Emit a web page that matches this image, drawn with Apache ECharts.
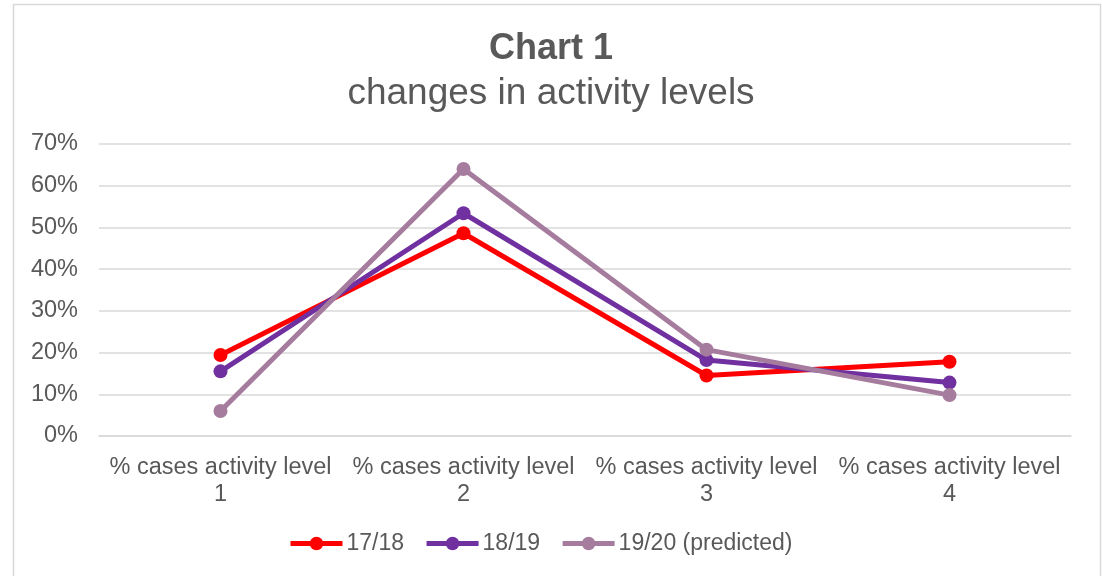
<!DOCTYPE html>
<html><head><meta charset="utf-8">
<script src="https://cdn.jsdelivr.net/npm/echarts@6/dist/echarts.min.js"></script>
<style>html,body{margin:0;padding:0;background:#fff}#c{width:1102px;height:576px}</style>
</head><body><div id="c"></div>
<script>
const categories = ['% cases activity level\n1','% cases activity level\n2','% cases activity level\n3','% cases activity level\n4'];
const s1718 = [19.4, 48.6, 14.5, 17.8];
const s1819 = [15.5, 53.4, 18.2, 12.8];
const s1920 = [6.0, 64.0, 20.7, 9.8];
const seriesNames = ['17/18','18/19','19/20 (predicted)'];
const colors = ['#FF0000','#7030A0','#A67C9E'];
const txt = '#595959';
const font = '"Liberation Sans", Arial, sans-serif';
const chart = echarts.init(document.getElementById('c'), null, {renderer:'canvas'});
const mk = (name, data, c) => ({
  name, type:'line', data, color:c, symbol:'circle', symbolSize:14,
  lineStyle:{width:5, color:c}, itemStyle:{color:c}, z: 2
});
chart.setOption({
  animation:false,
  textStyle:{fontFamily:font},
  graphic:[{type:'rect', shape:{x:13.5,y:4.5,width:1087,height:600}, style:{fill:null, stroke:'#d9d9d9', lineWidth:1.5}, silent:true}],
  title:{
    text:'Chart 1', subtext:'changes in activity levels', left:'center', top:26, itemGap:8,
    textStyle:{fontFamily:font, fontSize:36, fontWeight:'bold', color:txt},
    subtextStyle:{fontFamily:font, fontSize:37, color:txt}
  },
  legend:{
    top:527, left:283, itemWidth:52, itemHeight:17, itemGap:20,
    lineStyle:{width:5},
    textStyle:{fontFamily:font, fontSize:23, color:txt, padding:[0,0,0,-1]},
    data: seriesNames
  },
  grid:{left:99, right:31, top:144, bottom:140},
  xAxis:{
    type:'category', data:categories, boundaryGap:true,
    axisLine:{show:true, lineStyle:{color:'#d9d9d9', width:1.5}},
    axisTick:{show:false},
    axisLabel:{fontFamily:font, fontSize:23.5, color:txt, margin:18, lineHeight:27, interval:0}
  },
  yAxis:{
    type:'value', min:0, max:70, interval:10,
    axisLine:{show:false}, axisTick:{show:false},
    splitLine:{lineStyle:{color:'#d9d9d9', width:1.5}},
    axisLabel:{fontFamily:font, fontSize:23.5, color:txt, margin:21, formatter:v=>v+'%'}
  },
  series:[mk(seriesNames[0], s1718, colors[0]), mk(seriesNames[1], s1819, colors[1]), mk(seriesNames[2], s1920, colors[2])]
});
</script></body></html>
